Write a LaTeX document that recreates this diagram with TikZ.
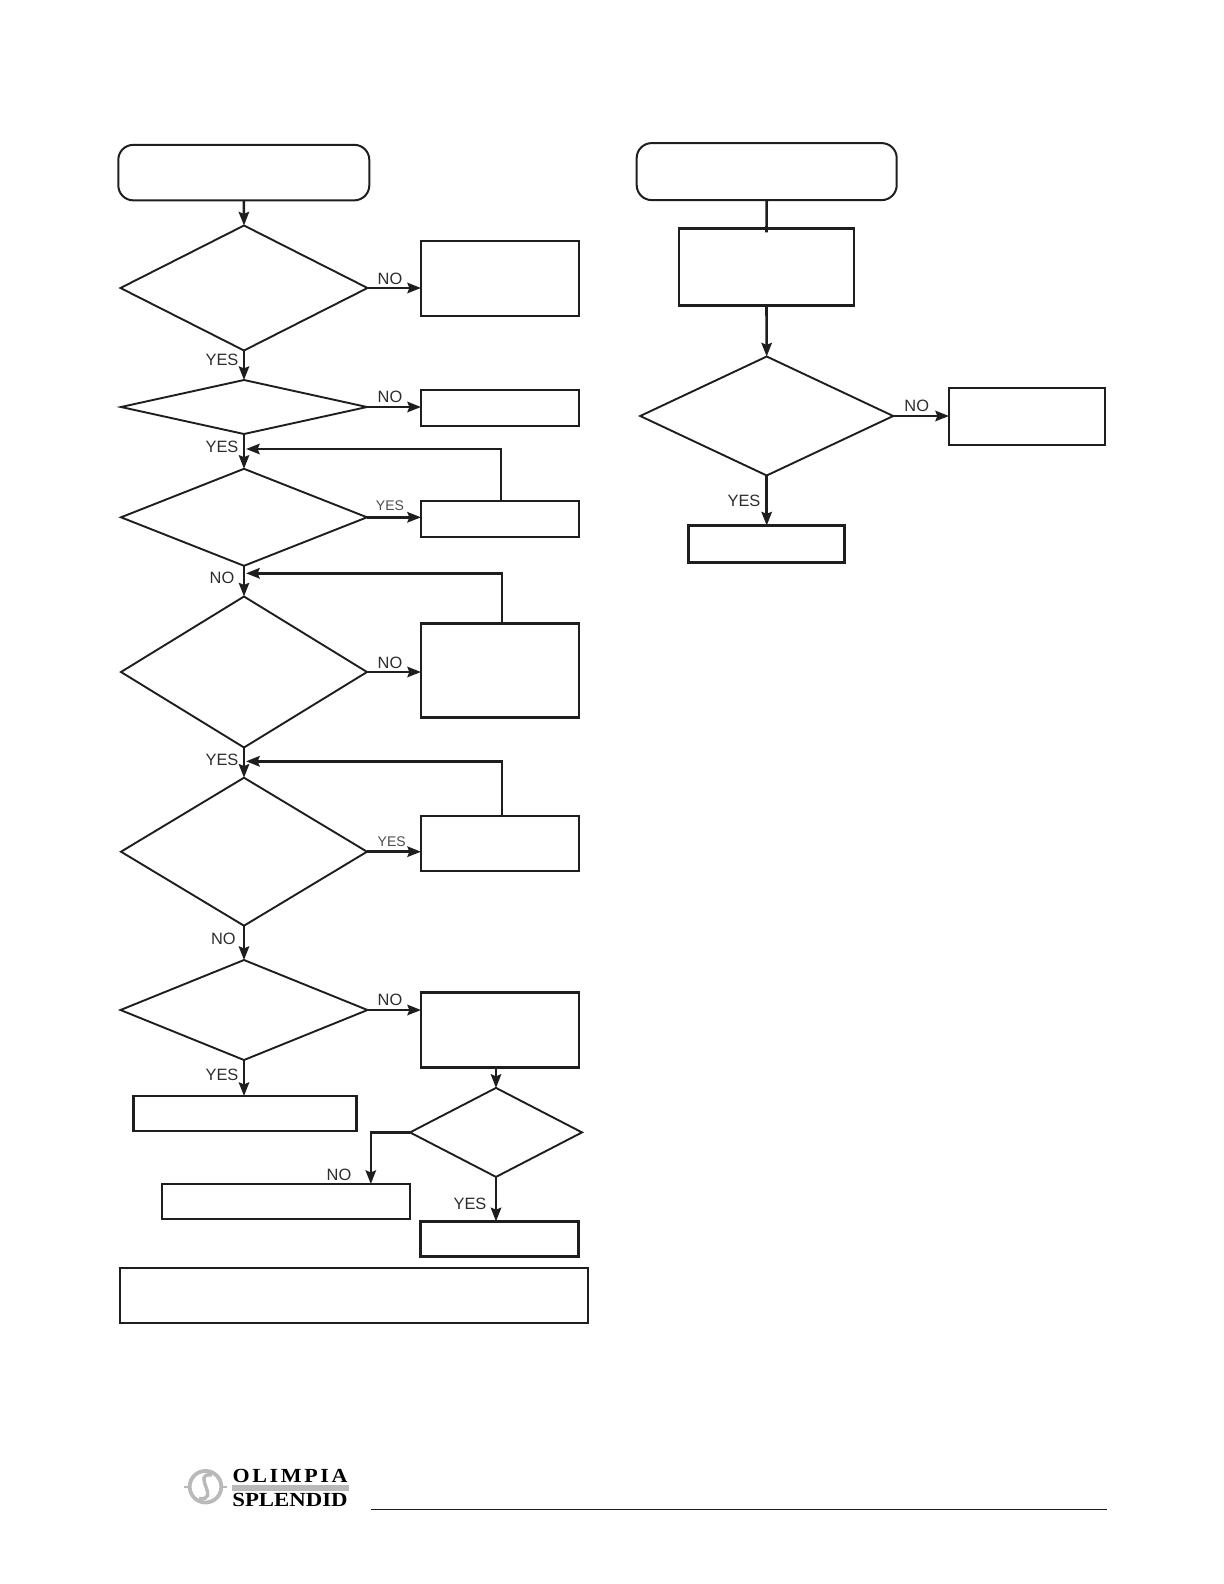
\documentclass[tikz,border=0pt]{standalone}
\usepackage{fontspec}
\setmainfont{Liberation Sans}
\newfontfamily\logofont{Liberation Serif}[Scale=1]
\usetikzlibrary{arrows.meta,shapes.geometric}
\definecolor{FlowInk}{RGB}{30,30,30}
\definecolor{LabelInk}{RGB}{45,45,45}
\definecolor{LogoGray}{RGB}{185,185,185}
\tikzset{
  startbox/.style={draw=FlowInk,line width=1pt,rectangle,rounded corners=7.5pt,inner sep=0pt,outer sep=0pt},
  actionbox/.style={draw=FlowInk,line width=1.35pt,rectangle,inner sep=0pt,outer sep=0pt},
  decision/.style={draw=FlowInk,line width=0.95pt,diamond,aspect=1,inner sep=0pt,outer sep=0pt},
  flow/.style={draw=FlowInk,line width=1.3pt,-{Stealth[length=6.8pt,width=5.2pt,inset=1pt]}},
  answer/.style={text=LabelInk,font=\fontsize{8.2}{9}\selectfont,inner sep=0pt},
  answersmall/.style={text=LabelInk!85,font=\fontsize{7}{8}\selectfont,inner sep=0pt}
}
\begin{document}
\begin{tikzpicture}[x=0.5pt,y=-0.5pt]
        \useasboundingbox (0,0) rectangle (1224,1584);
        \foreach \name/\x/\y/\w/\h in {starta/243.8/172.6/251/55.5,startb/766.7/171.6/260/57} {
          \node[startbox,minimum width=\w*0.5pt,minimum height=\h*0.5pt] (\name) at (\x,\y) {};
        }
        \foreach \name/\x/\y/\w/\h in {deca/244/288/247/125,decb/244/407/246/54,decc/244/517.3/246/97,
            decd/244/672/246/151,dece/244/851.7/246/148,decf/244/1010/247/100,decg/496/1132.4/172/89,dech/766.7/416/253/119} {
          \node[decision,minimum width=\w*0.5pt,minimum height=\h*0.5pt] (\name) at (\x,\y) {};
        }
        \foreach \name/\x/\y/\w/\h in {boxa/500/278.5/158/75,boxb/500/408/158/36,boxc/500/519/158/36,boxd/500/670.5/158/94,
            boxe/500/843.5/158/55,boxf/500/1030/158/75,boxg/244.7/1113.5/223/35,boxh/286/1201.5/248/35,
            boxi/499.7/1239/158/35.4,boxj/354/1295.5/468/55,boxk/766.5/267/175/77.4,boxl/1027/416.5/156/57,boxm/766.7/544/156/37} {
          \node[actionbox,minimum width=\w*0.5pt,minimum height=\h*0.5pt] (\name) at (\x,\y) {};
        }
        \coordinate (loopa) at (246,449);
        \coordinate (loopb) at (246,573.3);
        \coordinate (loopc) at (246,761.3);
        % left column
        \draw[flow] (starta.south) -- (deca.north);
        \draw[flow] (deca.south) -- (decb.north);
        \draw[flow] (decb.south) -- (decc.north);
        \draw[flow] (decc.south) -- (decd.north);
        \draw[flow] (decd.south) -- (dece.north);
        \draw[flow] (dece.south) -- (decf.north);
        \draw[flow] (decf.south) -- (decf.south |- boxg.north);
        \foreach \d/\b in {deca/boxa,decb/boxb,decc/boxc,decd/boxd,dece/boxe,decf/boxf} {
          \draw[flow] (\d.east) -- (\d.east -| \b.west);
        }
        % loops back
        \draw[flow] ([xshift=0.5pt]boxc.north) |- (loopa);
        \draw[flow] ([xshift=1pt]boxd.north) |- (loopb);
        \draw[flow] ([xshift=1pt]boxe.north) |- (loopc);
        % lower branch
        \draw[flow] (boxf.south -| decg.north) -- (decg.north);
        \draw[flow] (decg.south) -- (decg.south |- boxi.north);
        \draw[flow] (decg.west) -| ([xshift=42.4pt]boxh.north);
        % right column
        \draw[draw=FlowInk,line width=1.3pt] (startb.south) -- ([yshift=-2pt]boxk.north);
        \draw[flow] (boxk.south) -- (dech.north);
        \draw[flow] (dech.south) -- (boxm.north);
        \draw[flow] (dech.east) -- (dech.east -| boxl.west);
        % answers
        \foreach \name/\x/\y/\txt in {noa/390/279/NO,yesa/222/360/YES,nob/390/396.7/NO,yesb/222/446.7/YES,noc/222/578/NO,
            nod/390/662.4/NO,yesd/222/760/YES,noe/223.3/939/NO,nof/390/999.7/NO,yesf/222/1074.7/YES,nog/339/1175/NO,
            yesg/470/1204/YES,yesh/744/501/YES,noh/916.7/405.7/NO} {
          \node[answer] (\name) at (\x,\y) {\txt};
        }
        \node[answersmall] (yesc) at (390,505.5) {YES};
        \node[answersmall] (yese) at (391.7,841.2) {YES};
        % logo and footer
        \draw[LogoGray,line width=1.9pt] (205.5,1486.7) circle (7.9pt);
        \draw[LogoGray,line width=1.7pt] (212,1475) .. controls (190,1472) and (222,1501) .. (199,1498.5);
        \draw[LogoGray,line width=1pt] (184,1486.7) -- (188,1486.7);
        \draw[LogoGray,line width=1pt] (223,1486.7) -- (227,1486.7);
        \fill[LogoGray] (231.5,1485) rectangle (349,1490.5);
        \node[inner sep=0pt,anchor=base,xscale=1.1,font={\logofont\bfseries\addfontfeature{LetterSpace=12}\fontsize{10}{11}\selectfont}] (olimpia) at (290,1482.5) {OLIMPIA};
        \node[inner sep=0pt,anchor=base,xscale=1.14,font={\logofont\bfseries\fontsize{10}{11}\selectfont}] (splendid) at (290,1506) {SPLENDID};
        \coordinate (rulea) at (371,1509.5);
        \coordinate (ruleb) at (1107,1509.5);
        \draw[FlowInk,line width=0.5pt] (rulea) -- (ruleb);
      \end{tikzpicture}
\end{document}
